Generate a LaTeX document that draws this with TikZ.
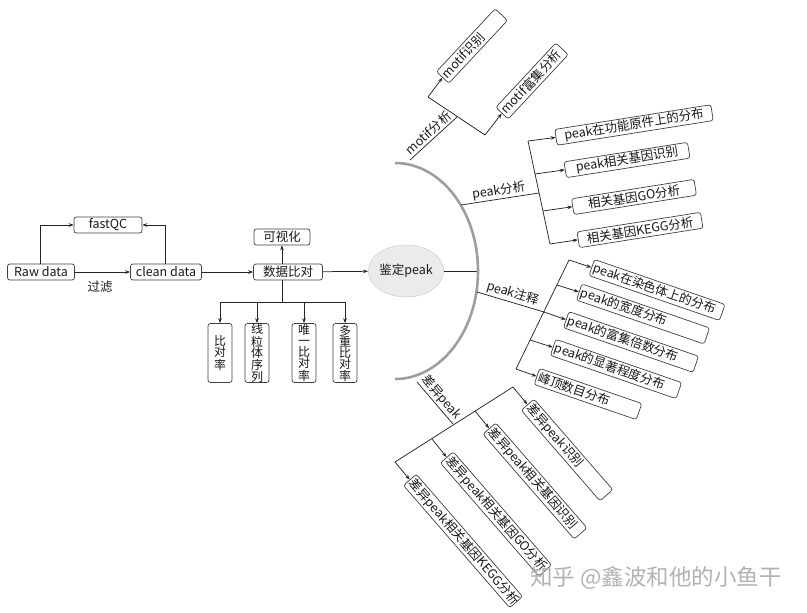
\documentclass[tikz,border=0pt]{standalone}
\usepackage{fontspec}
\setmainfont{Noto Sans CJK SC}
\usetikzlibrary{arrows.meta,shapes.geometric,calc}
\begin{document}
\begin{tikzpicture}[x=1pt,y=-1pt,
  every node/.style={font=\fontsize{12.5}{14}\selectfont, text=black!90},
  conn/.style={draw=black!85, line width=0.75pt},
  arr/.style={conn, -{Stealth[length=5pt,width=3.6pt]}},
  box/.style={draw=black!75, line width=0.7pt, rounded corners=2.5pt, fill=white,
    inner xsep=3pt, inner ysep=0pt, minimum height=16pt},
  rbox/.style={box, inner xsep=2pt, align=left, minimum height=17pt},
  vbox/.style={box, minimum width=24pt, minimum height=59pt, inner xsep=1pt,
    align=center, font=\fontsize{12}{11}\selectfont},
  arcst/.style={draw=black!38, line width=2.6pt},
  wmark/.style={font=\fontsize{22.5}{23}\selectfont, text=black!30}
]
\path[use as bounding box] (0,0) rectangle (807,613);

% ---------- left part ----------
\node[box, minimum width=67pt] (raw) at (41,272) {Raw data};
\node[box, minimum width=71pt] (clean) at (166,272) {clean data};
\node[box, minimum width=68pt] (fastqc) at (108,225) {fastQC};
\node[box, minimum width=69pt] (sjbd) at (288,272) {数据比对};
\node[box, minimum width=56pt] (ksh) at (282,237) {可视化};
\node (gl) at (100,287) {过滤};
\draw[arr] (raw) -- (clean);
\draw[arr] ([xshift=-1pt]raw.north) |- (fastqc.west);
\draw[arr] ([xshift=-1pt]clean.north) |- (fastqc.east);
\draw[arr] (clean) -- (sjbd);
\draw[arr] (sjbd.north -| ksh.south) -- (ksh.south);

\node[vbox] (v1) at (220,353) {比\\对\\率};
\node[vbox] (v2) at (257,353) {线\\粒\\体\\序\\列};
\node[vbox] (v3) at (304,353) {唯\\一\\比\\对\\率};
\node[vbox] (v4) at (345,353) {多\\重\\比\\对\\率};
\coordinate (split) at (282,302);
\draw[conn] (sjbd.south -| ksh.south) -- (split);
\draw[conn] (v1.north |- split) -- (v4.north |- split);
\foreach \v in {v1,v2,v3,v4} \draw[arr] (\v.north |- split) -- (\v.north);

% ---------- centre ----------
\node[ellipse, draw=black!22, fill=black!8, minimum width=64pt, minimum height=52pt, inner sep=0pt] (jd) at (406,271) {鉴定peak};
\draw[arr] (sjbd) -- (jd);
\coordinate (arcR) at (478,271);
\draw[conn] (jd) -- (arcR);
\draw[arcst] (395,163) arc[start angle=-90, end angle=90, x radius=83, y radius=108];

% ---------- motif ----------
\coordinate (m0) at (410,160);
\coordinate (mj) at (457,117);
\coordinate (mb1) at (428,97);
\coordinate (mb2) at (485,135);
\draw[conn] (m0) -- node[sloped, above, inner sep=1.5pt] (mlab) {motif分析} (mj);
\draw[conn] (mb1) -- (mb2);
\node[rbox, rotate=47, text width=82pt] (mt1) at (472,46) {motif识别};
\node[rbox, rotate=47, text width=84pt] (mt2) at (532,81) {motif富集分析};
\draw[arr] (mb1) -- (mt1.west);
\draw[arr] (mb2) -- (mt2.west);

% ---------- peak 分析 ----------
\coordinate (p0) at (461,205);
\coordinate (pj) at (539,193);
\coordinate (pb1) at (528,141);
\coordinate (pb2) at (535,174);
\coordinate (pb3) at (543,211);
\coordinate (pb4) at (550,244);
\draw[conn] (p0) -- node[sloped, above, inner sep=1.5pt] (plab) {peak分析} (pj);
\draw[conn] (pb1) -- (pb4);
\node[box, rotate=9, minimum width=158pt] (pa1) at (634,125) {peak在功能原件上的分布};
\node[box, rotate=9, minimum width=125pt] (pa2) at (627,160) {peak相关基因识别};
\node[box, rotate=9, minimum width=124pt] (pa3) at (634,197) {相关基因GO分析};
\node[box, rotate=9, minimum width=125pt] (pa4) at (640,230) {相关基因KEGG分析};
\draw[arr] (pb1) -- (pa1.west);
\draw[arr] (pb2) -- (pa2.west);
\draw[arr] (pb3) -- (pa3.west);
\draw[arr] (pb4) -- (pa4.west);

% ---------- peak 注释 ----------
\coordinate (n0) at (477,292);
\coordinate (nb1) at (569,260);
\coordinate (nb2) at (557,285);
\coordinate (nb3) at (544,312);
\coordinate (nb4) at (530,340);
\coordinate (nb5) at (516,369);
\draw[conn] (n0) -- node[sloped, above, inner sep=1.5pt] (nlab) {peak注释} (nb3);
\draw[conn] (nb1) -- (nb5);
\node[rbox, rotate=-19, text width=134pt] (pn1) at (657,290) {peak在染色体上的分布};
\node[rbox, rotate=-19, text width=131pt] (pn2) at (643,314) {peak的宽度分布};
\node[rbox, rotate=-19, text width=133pt] (pn3) at (631,342) {peak的富集倍数分布};
\node[rbox, rotate=-19, text width=129pt] (pn4) at (616,369) {peak的显著程度分布};
\node[rbox, rotate=-19, text width=104pt] (pn5) at (588,394) {峰顶数目分布};
\draw[arr] (nb1) -- (pn1.west);
\draw[arr] (nb2) -- (pn2.west);
\draw[arr] (nb3) -- (pn3.west);
\draw[arr] (nb4) -- (pn4.west);
\draw[arr] (nb5) -- (pn5.west);

% ---------- 差异peak ----------
\coordinate (d0) at (417,382);
\coordinate (dj) at (453,424);
\coordinate (db1) at (513,387);
\coordinate (db2) at (475,411);
\coordinate (db3) at (432,439);
\coordinate (db4) at (395,462);
\draw[conn] (d0) -- node[sloped, above, inner sep=1.5pt] (dlab) {差异peak} (dj);
\draw[conn] (db1) -- (db4);
\node[rbox, rotate=-49, text width=116pt] (dd1) at (567,450) {差异peak识别};
\node[rbox, rotate=-49, text width=135pt] (dd2) at (535,481) {差异peak相关基因识别};
\node[rbox, rotate=-49, text width=146pt] (dd3) at (496,514) {差异peak相关基因GO分析};
\node[rbox, rotate=-49, text width=158pt] (dd4) at (463,541) {差异peak相关基因KEGG分析};
\draw[arr] (db1) -- (dd1.west);
\draw[arr] (db2) -- (dd2.west);
\draw[arr] (db3) -- (dd3.west);
\draw[arr] (db4) -- (dd4.west);

% ---------- watermark ----------
\node[wmark] (wm) at (656,578) {知乎 @鑫波和他的小鱼干};
\end{tikzpicture}
\end{document}
